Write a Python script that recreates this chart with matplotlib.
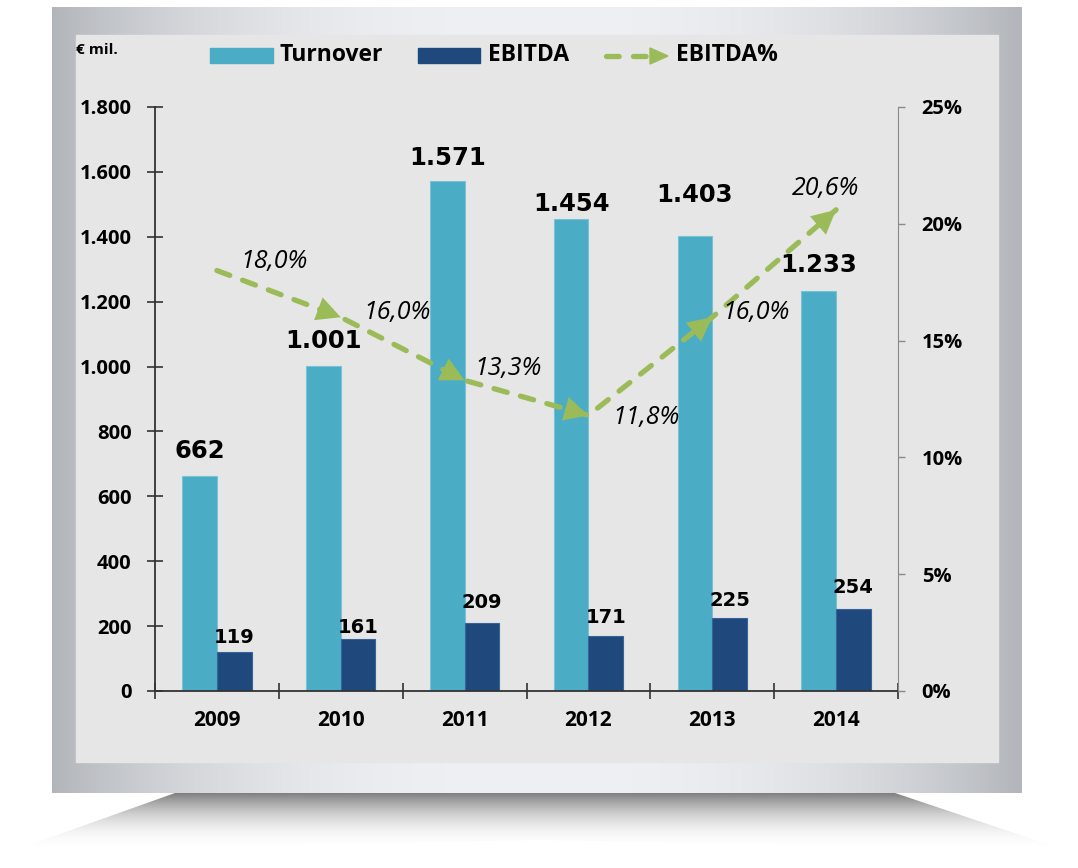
import numpy as np
import matplotlib
matplotlib.use('Agg')
import matplotlib.pyplot as plt
from matplotlib.patches import Rectangle, Polygon
from matplotlib.colors import to_rgb

plt.rcParams['font.family'] = ['Open Sans', 'DejaVu Sans']

years = ['2009', '2010', '2011', '2012', '2013', '2014']
turnover = [662, 1001, 1571, 1454, 1403, 1233]
ebitda = [119, 161, 209, 171, 225, 254]
ebitda_pct = [18.0, 16.0, 13.3, 11.8, 16.0, 20.6]

# hand placed label offsets (points), like in the original slide
turn_dy = [13, 13, 12, 6, 24, 14]
ebit_dy = [7, 4, 11, 9, 9, 11]
pct_off = [(17, 2), (16, -1), (7, 4), (17, -6), (7, -1), (-32, 11)]

C_TURN = '#4bacc6'
C_EBIT = '#1f497d'
C_PCT = '#9bbb59'

fig = plt.figure(figsize=(10.78, 8.68), dpi=100)

# ---- background: frame, panel, shadow (pixel coords) ----
bg = fig.add_axes([0, 0, 1, 1], zorder=0)
bg.axis('off')

# shadow under the frame
sx0, sx1, sy0, sy1 = 10, 1070, 793, 852
yy = np.linspace(0, 1, sy1 - sy0)[:, None]
sh = np.zeros((sy1 - sy0, sx1 - sx0, 4))
sh[..., :3] = 0.38
sh[..., 3] = 0.8 * (1 - yy) ** 2.2
im = bg.imshow(sh, extent=(sx0, sx1, sy1, sy0), interpolation='bilinear')
clip = Polygon([(15, 850), (175, 793), (895, 793), (1065, 850), (540, 840)],
               transform=bg.transData)
im.set_clip_path(clip)

# frame with horizontal gradient
fx = np.linspace(-1, 1, 970)
t = np.abs(fx) ** 2.5
light = np.array(to_rgb('#eef0f3'))
dark = np.array(to_rgb('#b2b5ba'))
row = light * (1 - t[:, None]) + dark * t[:, None]
frame = np.repeat(row[None, :, :], 2, axis=0)
bg.imshow(frame, extent=(52, 1022, 793, 7), interpolation='bilinear')

# chart panel
bg.add_patch(Rectangle((76, 35), 922, 727, color='#e6e6e6', zorder=2))

bg.set_aspect('auto')
bg.set_xlim(0, 1078)
bg.set_ylim(868, 0)

# legend drawn by hand
lg_font = dict(fontsize=16.5, fontweight='bold', va='center', color='black', zorder=3)
bg.add_patch(Rectangle((210, 48), 63, 15, color=C_TURN, zorder=3))
bg.text(280, 55, 'Turnover', **lg_font)
bg.add_patch(Rectangle((418, 48), 62, 15, color=C_EBIT, zorder=3))
bg.text(488, 55, 'EBITDA', **lg_font)
bg.plot([606, 648], [56, 56], color=C_PCT, lw=3.8, dashes=(2.4, 2.7),
        dash_capstyle='round', zorder=3)
bg.add_patch(Polygon([(650, 48), (650, 64), (668, 56)], color=C_PCT, zorder=3))
bg.text(676, 55, 'EBITDA%', **lg_font)
bg.text(76, 50, '€ mil.', fontsize=11, fontweight='bold', va='center', zorder=3)

# ---- main chart ----
ax = fig.add_axes([155 / 1078, 1 - 691 / 868, 743 / 1078, 584 / 868], zorder=2)
ax.patch.set_alpha(0)
x = np.arange(len(years))
w = 0.28

ax.bar(x - w / 2, turnover, w, color=C_TURN, edgecolor='#79c2d6', lw=0.8, zorder=2)
ax.bar(x + w / 2, ebitda, w, color=C_EBIT, edgecolor='#35639a', lw=0.8, zorder=2)

for i in range(len(years)):
    ax.annotate(f"{turnover[i]:,}".replace(',', '.'), (x[i] - w / 2, turnover[i]),
                xytext=(0, turn_dy[i]), textcoords='offset points', ha='center',
                va='baseline', fontsize=17.5, fontweight='bold', family='DejaVu Sans')
    ax.annotate(str(ebitda[i]), (x[i] + w / 2, ebitda[i]),
                xytext=(0, ebit_dy[i]), textcoords='offset points', ha='center',
                va='baseline', fontsize=14, fontweight='bold', family='DejaVu Sans')

ax.set_xlim(-0.5, len(years) - 0.5)
ax.set_ylim(0, 1800)
ax.set_yticks(range(0, 1801, 200))
ax.set_yticklabels([f"{v:,}".replace(',', '.') for v in range(0, 1801, 200)],
                   fontsize=14.5, fontweight='bold')
ax.set_xticks(x)
ax.set_xticklabels(years, fontsize=15, fontweight='bold')
ax.set_xticks(np.arange(-0.5, len(years)), minor=True)
ax.tick_params(axis='x', which='major', length=0, pad=14)
ax.tick_params(axis='x', which='minor', direction='inout', length=12, width=1.2, color='#333333')
ax.tick_params(axis='y', direction='inout', length=12, width=1.2, color='#333333', pad=11)
for s in ['top', 'right']:
    ax.spines[s].set_visible(False)
for s in ['left', 'bottom']:
    ax.spines[s].set_color('#333333')
    ax.spines[s].set_linewidth(1.3)

# ---- EBITDA % line ----
ax2 = ax.twinx()
ax2.set_zorder(3)
ax2.set_ylim(0, 25)
ax2.set_yticks(range(0, 26, 5))
ax2.set_yticklabels([f"{v}%" for v in range(0, 26, 5)], fontsize=14.5, fontweight='bold')
ax2.tick_params(axis='y', direction='out', length=5, width=1, color='#8a8a8a', pad=12)
for s in ['top', 'left', 'bottom']:
    ax2.spines[s].set_visible(False)
ax2.spines['right'].set_color('#8a8a8a')

ax2.plot(x, ebitda_pct, color=C_PCT, lw=3.8, dashes=(2.6, 2.6),
         dash_capstyle='round', zorder=4)
for i in range(1, len(years)):
    dx = x[i] - x[i - 1]
    dy = ebitda_pct[i] - ebitda_pct[i - 1]
    ax2.annotate('', xy=(x[i], ebitda_pct[i]),
                 xytext=(x[i] - 0.3 * dx, ebitda_pct[i] - 0.3 * dy),
                 arrowprops=dict(arrowstyle='-|>,head_length=0.75,head_width=0.38',
                                 color=C_PCT, lw=0, mutation_scale=23,
                                 shrinkA=0, shrinkB=0), zorder=5)

for i in range(len(years)):
    ax2.annotate(f"{ebitda_pct[i]:.1f}%".replace('.', ','), (x[i], ebitda_pct[i]),
                 xytext=pct_off[i], textcoords='offset points', ha='left',
                 va='baseline', fontsize=18, style='italic', zorder=6)

fig.savefig('out.png', dpi=100)
